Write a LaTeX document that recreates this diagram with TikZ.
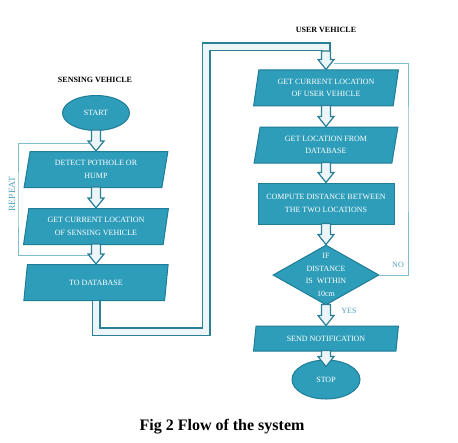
\documentclass[tikz,border=0pt]{standalone}
\usepackage{fontspec}
\setmainfont{Liberation Serif}
\usetikzlibrary{shapes.geometric,positioning,calc}

\definecolor{boxfill}{HTML}{2E9DBA}
\definecolor{boxline}{HTML}{1F7D98}
\definecolor{pipecol}{HTML}{2C8096}
\definecolor{arrowfill}{HTML}{ECF6F9}
\definecolor{loopcol}{HTML}{7FBDCF}
\definecolor{labelcol}{HTML}{4FA3BD}

% hollow block arrow between two anchors
\newcommand{\flowarrow}[2]{%
  \filldraw[arrowbody] let \p1=(#1), \p2=(#2) in
    (\x1-4.5pt,\y1+1pt) -- (\x1-4.5pt,\y2+10pt) -- (\x1-8pt,\y2+10pt) -- (\x1,\y2)
    -- (\x1+8pt,\y2+10pt) -- (\x1+4.5pt,\y2+10pt) -- (\x1+4.5pt,\y1+1pt) -- cycle;}

\begin{document}
\begin{tikzpicture}[x=1pt,y=-1pt,node distance=20pt,
    every node/.style={font=\fontsize{8}{12.5}\selectfont},
    proc/.style={trapezium,trapezium left angle=79,trapezium right angle=101,
      trapezium stretches=true,minimum width=145pt,minimum height=36pt,
      fill=boxfill,draw=boxline,line width=1pt,text=white,align=center,inner sep=1pt},
    calcbox/.style={rectangle,minimum width=136pt,minimum height=41pt,
      fill=boxfill,draw=boxline,line width=1pt,text=white,align=center},
    term/.style={ellipse,minimum width=67pt,minimum height=35pt,
      fill=boxfill,draw=boxline,line width=1pt,text=white},
    decision/.style={diamond,minimum width=106pt,minimum height=60pt,inner sep=0pt,
      fill=boxfill,draw=boxline,line width=1pt},
    arrowbody/.style={fill=arrowfill,draw=pipecol,line width=1.2pt,line join=miter},
    pipe/.style={draw=pipecol,line width=1.5pt,double=arrowfill,double distance=6pt},
    loopline/.style={draw=loopcol,line width=0.8pt},
    title/.style={font=\fontsize{8}{10}\selectfont\bfseries},
    looplabel/.style={text=labelcol,font=\fontsize{8}{10}\selectfont}]
  \useasboundingbox (0,0) rectangle (458,443);

  % sensing vehicle
  \node[title] (stitle) at (95,80) {SENSING VEHICLE};
  \node[term] (start) at (96,113) {START};
  \node[proc] (detect) [below=of start] {DETECT POTHOLE OR\\HUMP};
  \node[proc] (getloc) [below=of detect] {GET CURRENT LOCATION\\OF SENSING VEHICLE};
  \node[proc] (todb) [below=19pt of getloc] {TO DATABASE};

  % user vehicle
  \node[title] (utitle) at (326,30) {USER VEHICLE};
  \node[proc] (ucur) at (326,88) {GET CURRENT LOCATION\\OF USER VEHICLE};
  \node[proc] (udb) [below=of ucur] {GET LOCATION FROM\\DATABASE};
  \node[calcbox] (comp) [below=19pt of udb] {COMPUTE DISTANCE BETWEEN\\THE TWO LOCATIONS};
  \node[decision] (dec) [below=of comp]
    {}; \node[text=white,align=center] (dectext) at (dec) {IF\\DISTANCE\\IS~~WITHIN\\10cm};
  \node[proc,minimum height=25pt] (notify) [below=of dec] {SEND NOTIFICATION};
  \node[term,minimum width=68pt,minimum height=39pt] (stop) [below=8pt of notify] {STOP};

  % loops
  \coordinate (rep1) at (89,255);
  \coordinate (rep2) at (89,143);
  \coordinate (repcorner) at (18,200);
  \draw[loopline] (rep1) -| (repcorner) |- (rep2);
  \node[looplabel,font=\fontsize{9.5}{10}\selectfont,rotate=90] (replabel) at (12,194) {REPEAT};

  \coordinate (nocorner) at (408,150);
  \coordinate (noend) at (334,63);
  \draw[loopline] (dec.east) -| (nocorner) |- (noend);
  \node[looplabel] (nolabel) at (398,265) {NO};
  \node[looplabel] (yeslabel) at (349,311) {YES};

  % pipe between the two columns
  \coordinate (pipe1) at (206,332);
  \coordinate (pipe2) at (206,47);
  \coordinate (pipein) at (326,52);
  \draw[pipe] (todb.south) |- (pipe1) -- (pipe2) -| (pipein);

  % block arrows
  \flowarrow{start.south}{detect.north}
  \flowarrow{detect.south}{getloc.north}
  \flowarrow{getloc.south}{todb.north}
  \flowarrow{pipein}{ucur.north}
  \flowarrow{ucur.south}{udb.north}
  \flowarrow{udb.south}{comp.north}
  \flowarrow{comp.south}{dec.north}
  \flowarrow{dec.south}{notify.north}
  \flowarrow{notify.south}{[yshift=-7pt]stop.north}

  \node[font=\fontsize{16}{18}\selectfont\bfseries] (caption) at (222,427) {Fig 2 Flow of the system};
\end{tikzpicture}
\end{document}
